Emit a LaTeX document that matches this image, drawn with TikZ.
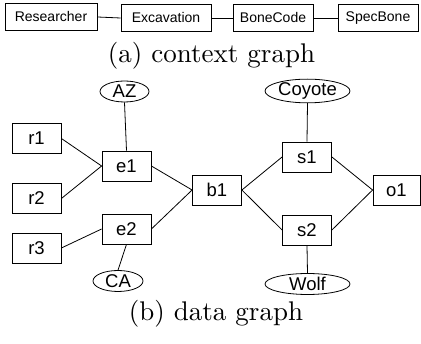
\documentclass[tikz,border=0pt]{standalone}
\usepackage{fontspec}
\newfontfamily\nodefont{Liberation Sans}
\newfontfamily\capfont[Extension=.otf]{lmroman10-regular}
\usetikzlibrary{shapes.geometric}
\begin{document}
\begin{tikzpicture}[x=1pt,y=-1pt,
  every path/.style={line width=0.8pt},
  ctxbox/.style={draw,rectangle,minimum height=27pt,inner sep=0pt,font=\nodefont\fontsize{14}{16}\selectfont},
  databox/.style={draw,rectangle,minimum width=49pt,minimum height=30pt,inner sep=0pt,font=\nodefont\fontsize{18.5}{20}\selectfont},
  attr/.style={draw,ellipse,minimum height=21pt,inner sep=0pt,font=\nodefont\fontsize{18.5}{20}\selectfont},
  caption/.style={font=\capfont\fontsize{27}{30}\selectfont}]
\useasboundingbox (0,0) rectangle (421,344);
% context graph
\node[ctxbox,minimum width=92pt] (res) at (51,17) {Researcher};
\node[ctxbox,minimum width=90pt] (exc) at (166,18) {Excavation};
\node[ctxbox,minimum width=80pt] (bc) at (273,18) {BoneCode};
\node[ctxbox,minimum width=80pt] (sb) at (378,18) {SpecBone};
\draw (res.east) -- (exc.west);
\draw (exc.east) -- (bc.west);
\draw (bc.east) -- (sb.west);
\node[caption] (capa) at (211.5,56) {(a) context graph};
% data graph
\node[databox] (r1) at (36.5,138.5) {r1};
\node[databox] (r2) at (36.5,198.5) {r2};
\node[databox] (r3) at (36.5,248) {r3};
\node[databox] (e1) at (126.5,166) {e1};
\node[databox] (e2) at (126.5,229) {e2};
\node[databox] (b1) at (217,190) {b1};
\node[databox] (s1) at (307,157) {s1};
\node[databox] (s2) at (307,230) {s2};
\node[databox,minimum width=47pt] (o1) at (396.5,190) {o1};
\node[attr,minimum width=49pt] (AZ) at (124.5,91.5) {AZ};
\node[attr,minimum width=50pt] (CA) at (118,281) {CA};
\node[attr,minimum width=85pt] (coy) at (307.5,91) {Coyote};
\node[attr,minimum width=85pt] (wolf) at (307.5,284) {Wolf};
\draw (r1.east) -- (e1.west);
\draw (r2.east) -- (e1.west);
\draw (r3.east) -- (e2.west);
\draw (e1.east) -- (b1.west);
\draw (e2.east) -- (b1.west);
\draw (b1.east) -- (s1.west);
\draw (b1.east) -- (s2.west);
\draw (s1.east) -- (o1.west);
\draw (s2.east) -- (o1.west);
\draw (AZ.south) -- (e1.north);
\draw (CA.north) -- (e2.south);
\draw (coy.south) -- (s1.north);
\draw (s2.south) -- (wolf.north);
\node[caption] (capb) at (216,314) {(b) data graph};
\end{tikzpicture}
\end{document}
